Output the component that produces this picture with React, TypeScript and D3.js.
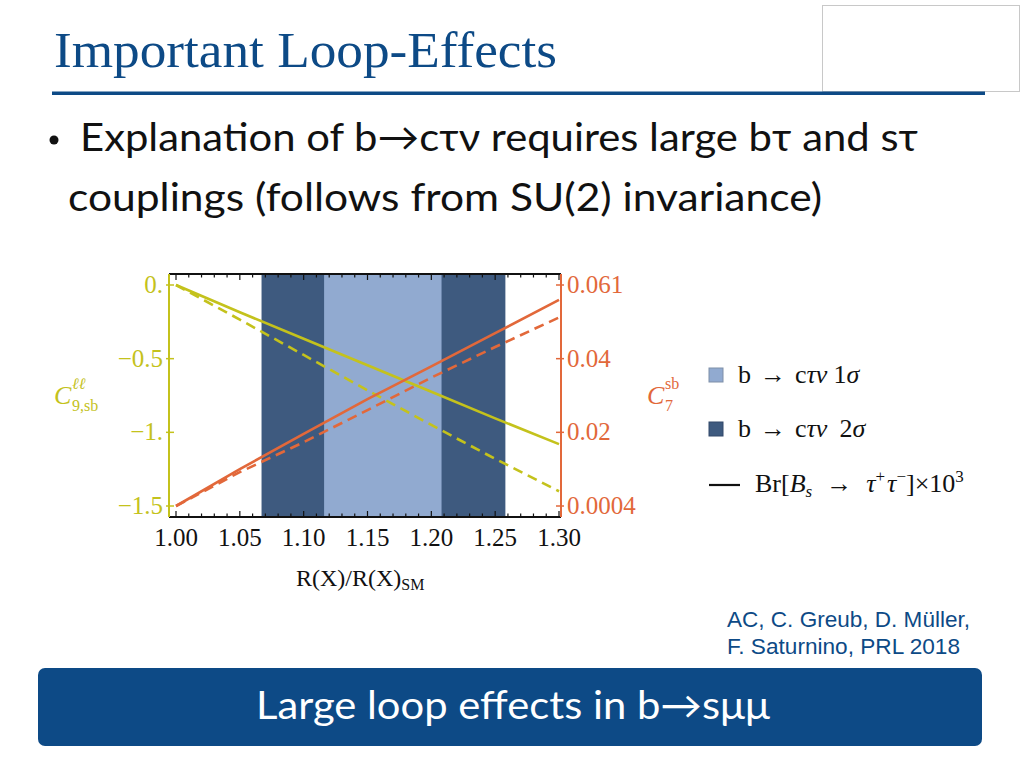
import React from "react";
import * as d3 from "d3";

// ---------- data ----------
const xTicks = [1.0, 1.05, 1.1, 1.15, 1.2, 1.25, 1.3];
const xTickLabels = ["1.00", "1.05", "1.10", "1.15", "1.20", "1.25", "1.30"];
const leftTicks = [0, -0.5, -1, -1.5];
const leftTickLabels = ["0.", "\u22120.5", "\u22121.", "\u22121.5"];
const rightTicks = [0.061, 0.0408, 0.0206, 0.0004];
const rightTickLabels = ["0.061", "0.04", "0.02", "0.0004"];

const band2sigma = [1.067, 1.258];
const band1sigma = [1.116, 1.208];

const xs = [1.0, 1.05, 1.1, 1.15, 1.2, 1.25, 1.3];
const c9Solid = [0, -0.185, -0.365, -0.545, -0.725, -0.905, -1.08];
const c9Dashed = [0, -0.235, -0.475, -0.715, -0.95, -1.18, -1.4];
const c7Solid = [0.0004, 0.0105, 0.0202, 0.0297, 0.0387, 0.0478, 0.0569];
const c7Dashed = [0.0004, 0.0097, 0.0179, 0.0267, 0.0356, 0.044, 0.0521];

const legendLabels = ["1", "2"];

// ---------- styles ----------
const YELLOW = "#c4c21c";
const ORANGE = "#e2683a";
const DARK = "#3e5a7f";
const LIGHT = "#91aad0";
const BLUE = "#0d4a86";
const SERIF = "'Liberation Serif', 'DejaVu Serif', serif";
const SANS = "Lato, 'Open Sans', sans-serif";

export default function App() {
  const x = d3.scaleLinear().domain([1.0, 1.3]).range([176, 559]);
  const yL = d3.scaleLinear().domain([-1.5, 0]).range([506, 285]);
  const yR = d3.scaleLinear().domain([0.0004, 0.061]).range([506, 285]);
  const frame = { left: 169, right: 561, top: 274, bottom: 517 };

  const lineL = d3
    .line<[number, number]>()
    .x((d) => x(d[0]))
    .y((d) => yL(d[1]));
  const lineR = d3
    .line<[number, number]>()
    .x((d) => x(d[0]))
    .y((d) => yR(d[1]));

  const zip = (a: number[]) => xs.map((v, i) => [v, a[i]] as [number, number]);

  const minorTicks = d3.range(0, 31).map((i) => 1.0 + i * 0.01);
  const minorPx = minorTicks.filter((v) => x(v) > frame.left && x(v) < frame.right);

  return (
    <svg
      width={1024}
      height={768}
      style={{ position: "absolute", left: 0, top: 0, background: "#fff" }}
    >
      {/* header */}
      <rect x={822.5} y={5.5} width={197} height={86} fill="none" stroke="#c8c8c8" strokeWidth={1} />
      <text x={54} y={67} fontFamily={SERIF} fontSize={51} fill={BLUE} textLength={503} lengthAdjust="spacingAndGlyphs">
        Important Loop-Effects
      </text>
      <rect x={52} y={91.5} width={933} height={3.5} fill={BLUE} />

      {/* bullet text */}
      <circle cx={54} cy={140} r={4.5} fill="#111" />
      <text x={80} y={151} fontFamily={SANS} fontSize={39} fill="#111" textLength={838} lengthAdjust="spacingAndGlyphs">
        Explanation of b→cτν requires large bτ and sτ
      </text>
      <text x={68} y={211} fontFamily={SANS} fontSize={39} fill="#111" textLength={754} lengthAdjust="spacingAndGlyphs">
        couplings (follows from SU(2) invariance)
      </text>

      {/* plot bands */}
      <rect x={x(band2sigma[0])} y={frame.top} width={x(band2sigma[1]) - x(band2sigma[0])} height={frame.bottom - frame.top} fill={DARK} />
      <rect x={x(band1sigma[0])} y={frame.top} width={x(band1sigma[1]) - x(band1sigma[0])} height={frame.bottom - frame.top} fill={LIGHT} />

      {/* lines */}
      <path d={lineL(zip(c9Solid)) || ""} fill="none" stroke={YELLOW} strokeWidth={2.6} />
      <path d={lineL(zip(c9Dashed)) || ""} fill="none" stroke={YELLOW} strokeWidth={2.6} strokeDasharray="10,6" />
      <path d={lineR(zip(c7Solid)) || ""} fill="none" stroke={ORANGE} strokeWidth={2.6} />
      <path d={lineR(zip(c7Dashed)) || ""} fill="none" stroke={ORANGE} strokeWidth={2.6} strokeDasharray="10,6" />

      {/* frame top/bottom */}
      <line x1={frame.left} x2={frame.right} y1={frame.top} y2={frame.top} stroke="#111" strokeWidth={2} />
      <line x1={frame.left} x2={frame.right} y1={frame.bottom} y2={frame.bottom} stroke="#111" strokeWidth={2} />
      {minorPx.map((v, i) => {
        const major = Math.abs((v - 1.0) / 0.05 - Math.round((v - 1.0) / 0.05)) < 1e-6;
        const len = major ? 6 : 3.5;
        return (
          <g key={i}>
            <line x1={x(v)} x2={x(v)} y1={frame.top} y2={frame.top + len} stroke="#111" strokeWidth={1.2} />
            <line x1={x(v)} x2={x(v)} y1={frame.bottom} y2={frame.bottom - len} stroke="#111" strokeWidth={1.2} />
          </g>
        );
      })}
      {/* left axis */}
      <line x1={frame.left} x2={frame.left} y1={frame.top} y2={frame.bottom} stroke={YELLOW} strokeWidth={2} />
      {leftTicks.map((t, i) => (
        <g key={i}>
          <line x1={frame.left - 3} x2={frame.left + 5} y1={yL(t)} y2={yL(t)} stroke={YELLOW} strokeWidth={1.5} />
          <text x={163} y={yL(t) + 8} textAnchor="end" fontFamily={SERIF} fontSize={25} fill={YELLOW}>
            {leftTickLabels[i]}
          </text>
        </g>
      ))}
      {/* right axis */}
      <line x1={frame.right} x2={frame.right} y1={frame.top} y2={frame.bottom} stroke={ORANGE} strokeWidth={2} />
      {rightTicks.map((t, i) => (
        <g key={i}>
          <line x1={frame.right - 5} x2={frame.right + 3} y1={yR(t)} y2={yR(t)} stroke={ORANGE} strokeWidth={1.5} />
          <text x={567} y={yR(t) + 8} fontFamily={SERIF} fontSize={25} fill={ORANGE}>
            {rightTickLabels[i]}
          </text>
        </g>
      ))}
      {/* x tick labels */}
      {xTicks.map((t, i) => (
        <text key={i} x={x(t)} y={546} textAnchor="middle" fontFamily={SERIF} fontSize={25} fill="#111">
          {xTickLabels[i]}
        </text>
      ))}
      {/* axis labels */}
      <text x={296} y={586} fontFamily={SERIF} fontSize={24} fill="#111">
        R(X)/R(X)<tspan fontSize={16} dy={4}>SM</tspan>
      </text>
      <text x={54} y={404} fontFamily={SERIF} fontSize={26} fontStyle="italic" fill={YELLOW}>C</text>
      <text x={72} y={389} fontFamily={SERIF} fontSize={16} fontStyle="italic" fill={YELLOW}>ℓℓ</text>
      <text x={72} y={411} fontFamily={SERIF} fontSize={16} fill={YELLOW}>9,sb</text>
      <text x={647} y={404} fontFamily={SERIF} fontSize={26} fontStyle="italic" fill={ORANGE}>C</text>
      <text x={665} y={389} fontFamily={SERIF} fontSize={16} fill={ORANGE}>sb</text>
      <text x={665} y={411} fontFamily={SERIF} fontSize={16} fill={ORANGE}>7</text>

      {/* legend */}
      <rect x={709} y={368} width={14} height={14} fill={LIGHT} stroke="#7f8fa8" strokeWidth={1} />
      <rect x={709} y={422} width={14} height={14} fill={DARK} stroke="#33496a" strokeWidth={1} />
      {legendLabels.map((lab, i) => (
        <text key={i} x={738} y={383 + i * 54} fontFamily={SERIF} fontSize={26} fill="#111">
          b<tspan dx={9}>→</tspan><tspan dx={9}>c</tspan><tspan fontStyle="italic">τν</tspan>
          <tspan dx={i === 1 ? 12 : 6}>{lab}</tspan><tspan fontStyle="italic">σ</tspan>
        </text>
      ))}
      <line x1={709} x2={740} y1={485} y2={485} stroke="#111" strokeWidth={2.2} />
      <text x={755} y={492} fontFamily={SERIF} fontSize={26} fill="#111">
        Br[<tspan fontStyle="italic">B</tspan><tspan fontStyle="italic" fontSize={17} dy={5}>s</tspan>
        <tspan dy={-5} dx={14}>→</tspan><tspan dx={14} fontStyle="italic">τ</tspan><tspan fontSize={17} dy={-10}>+</tspan>
        <tspan fontStyle="italic" dy={10} dx={2}>τ</tspan><tspan fontSize={17} dy={-10}>−</tspan>
        <tspan dy={10}>]×10</tspan><tspan fontSize={17} dy={-10}>3</tspan>
      </text>

      {/* citation */}
      <text x={727} y={627} fontFamily="'Liberation Sans', Arial, sans-serif" fontSize={22} fill={BLUE} textLength={243} lengthAdjust="spacingAndGlyphs">
        AC, C. Greub, D. Müller,
      </text>
      <text x={727} y={654} fontFamily="'Liberation Sans', Arial, sans-serif" fontSize={22} fill={BLUE} textLength={233} lengthAdjust="spacingAndGlyphs">
        F. Saturnino, PRL 2018
      </text>

      {/* bottom box */}
      <rect x={38} y={668} width={944} height={78} rx={7} fill={BLUE} />
      <text x={256} y={719} fontFamily={SANS} fontSize={38} fill="#fff" textLength={514} lengthAdjust="spacingAndGlyphs">
        Large loop effects in b→sμμ
      </text>
    </svg>
  );
}
